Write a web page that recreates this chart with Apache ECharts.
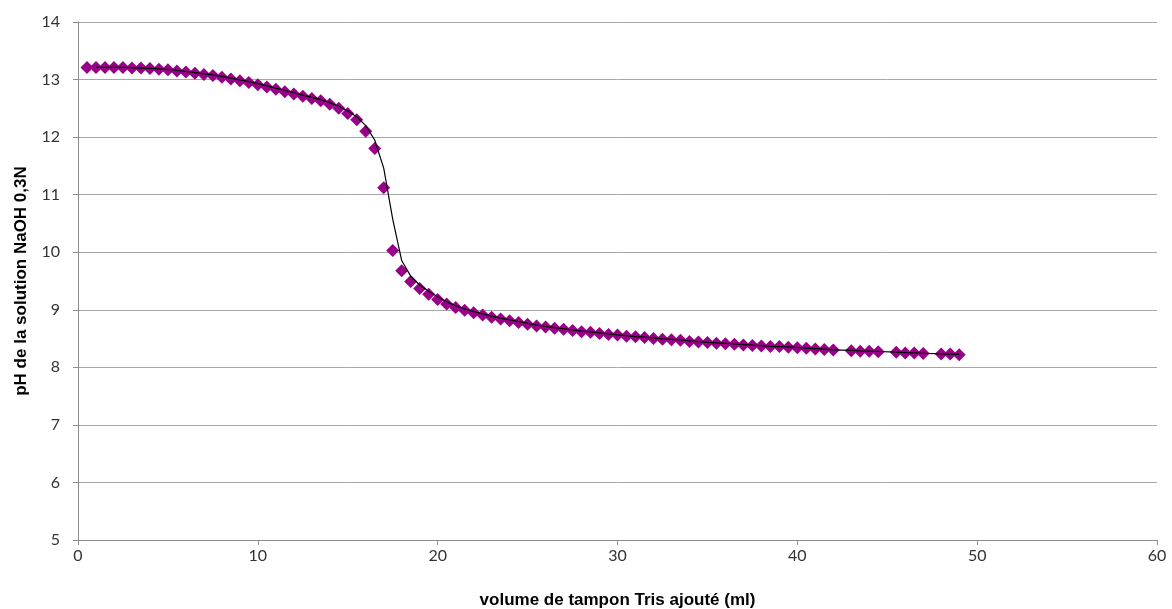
<!DOCTYPE html>
<html>
<head>
<meta charset="utf-8">
<script src="https://cdn.jsdelivr.net/npm/echarts@6/dist/echarts.min.js"></script>
<style>
html,body{margin:0;padding:0;background:#fff;}
#chart{width:1172px;height:609px;}
</style>
</head>
<body>
<div id="chart"></div>
<script>
// Volume of Tris buffer added (ml)
const volumes = [
  0.5,1,1.5,2,2.5,3,3.5,4,4.5,5,5.5,6,6.5,7,7.5,8,8.5,9,9.5,10,
  10.5,11,11.5,12,12.5,13,13.5,14,14.5,15,15.5,16,16.5,17,17.5,18,18.5,19,19.5,20,
  20.5,21,21.5,22,22.5,23,23.5,24,24.5,25,25.5,26,26.5,27,27.5,28,28.5,29,29.5,30,
  30.5,31,31.5,32,32.5,33,33.5,34,34.5,35,35.5,36,36.5,37,37.5,38,38.5,39,39.5,40,
  40.5,41,41.5,42,43,43.5,44,44.5,45.5,46,46.5,47,48,48.5,49
];
// pH of the NaOH 0,3N solution
const phValues = [
  13.21,13.21,13.21,13.21,13.21,13.20,13.20,13.19,13.18,13.17,13.15,13.13,13.11,13.09,13.07,13.04,13.01,12.98,12.95,12.91,
  12.87,12.83,12.79,12.75,12.71,12.67,12.63,12.57,12.50,12.41,12.30,12.10,11.80,11.12,10.03,9.68,9.49,9.37,9.27,9.18,
  9.10,9.04,8.99,8.95,8.91,8.87,8.84,8.81,8.78,8.75,8.72,8.70,8.68,8.66,8.64,8.62,8.61,8.59,8.57,8.56,
  8.54,8.53,8.52,8.50,8.49,8.48,8.47,8.45,8.44,8.43,8.42,8.41,8.40,8.39,8.38,8.37,8.36,8.36,8.35,8.34,
  8.33,8.32,8.31,8.30,8.29,8.28,8.28,8.27,8.26,8.25,8.25,8.24,8.23,8.23,8.22
];
const xTicks = [0,10,20,30,40,50,60];
const yTicks = [5,6,7,8,9,10,11,12,13,14];
const xTitle = 'volume de tampon Tris ajouté (ml)';
const yTitle = 'pH de la solution NaOH 0,3N';

const points = volumes.map((v, i) => [v, phValues[i]]);
// Moving-average trendline (period 2), as drawn by the original chart
const trend = [];
for (let i = 1; i < points.length; i++) {
  trend.push([volumes[i], (phValues[i] + phValues[i - 1]) / 2]);
}

const chart = echarts.init(document.getElementById('chart'));
const labelFont = {color: '#333333', fontSize: 16, fontFamily: 'Lato, "DejaVu Sans", sans-serif'};
const titleFont = {fontSize: 17, fontWeight: 'bold', color: '#000', fontFamily: '"Liberation Sans", Arial, sans-serif'};
chart.setOption({
  animation: false,
  backgroundColor: '#ffffff',
  grid: {left: 78, right: 15, top: 22, bottom: 69, containLabel: false, outerBoundsMode: 'none'},
  xAxis: {
    type: 'value',
    min: xTicks[0], max: xTicks[xTicks.length - 1], interval: 10,
    name: xTitle, nameLocation: 'middle', nameGap: 52,
    nameTextStyle: titleFont,
    axisLine: {lineStyle: {color: '#8c8c8c', width: 1}},
    axisTick: {show: true, length: 5, lineStyle: {color: '#8c8c8c'}},
    axisLabel: Object.assign({margin: 8}, labelFont),
    splitLine: {show: false}
  },
  yAxis: {
    type: 'value',
    min: yTicks[0], max: yTicks[yTicks.length - 1], interval: 1,
    name: yTitle, nameLocation: 'middle', nameGap: 48, nameRotate: 90,
    nameTextStyle: titleFont,
    axisLine: {show: true, lineStyle: {color: '#8c8c8c', width: 1}},
    axisTick: {show: true, length: 5, lineStyle: {color: '#8c8c8c'}},
    axisLabel: Object.assign({margin: 18}, labelFont),
    splitLine: {show: true, lineStyle: {color: '#a6a6a6', width: 1}}
  },
  series: [
    {
      type: 'scatter',
      data: points,
      symbol: 'diamond',
      symbolSize: [13, 13],
      itemStyle: {color: '#990088', opacity: 1},
      z: 2
    },
    {
      type: 'line',
      data: trend,
      showSymbol: false,
      smooth: false,
      lineStyle: {color: '#000000', width: 1.2},
      z: 3
    }
  ]
});
</script>
</body>
</html>
